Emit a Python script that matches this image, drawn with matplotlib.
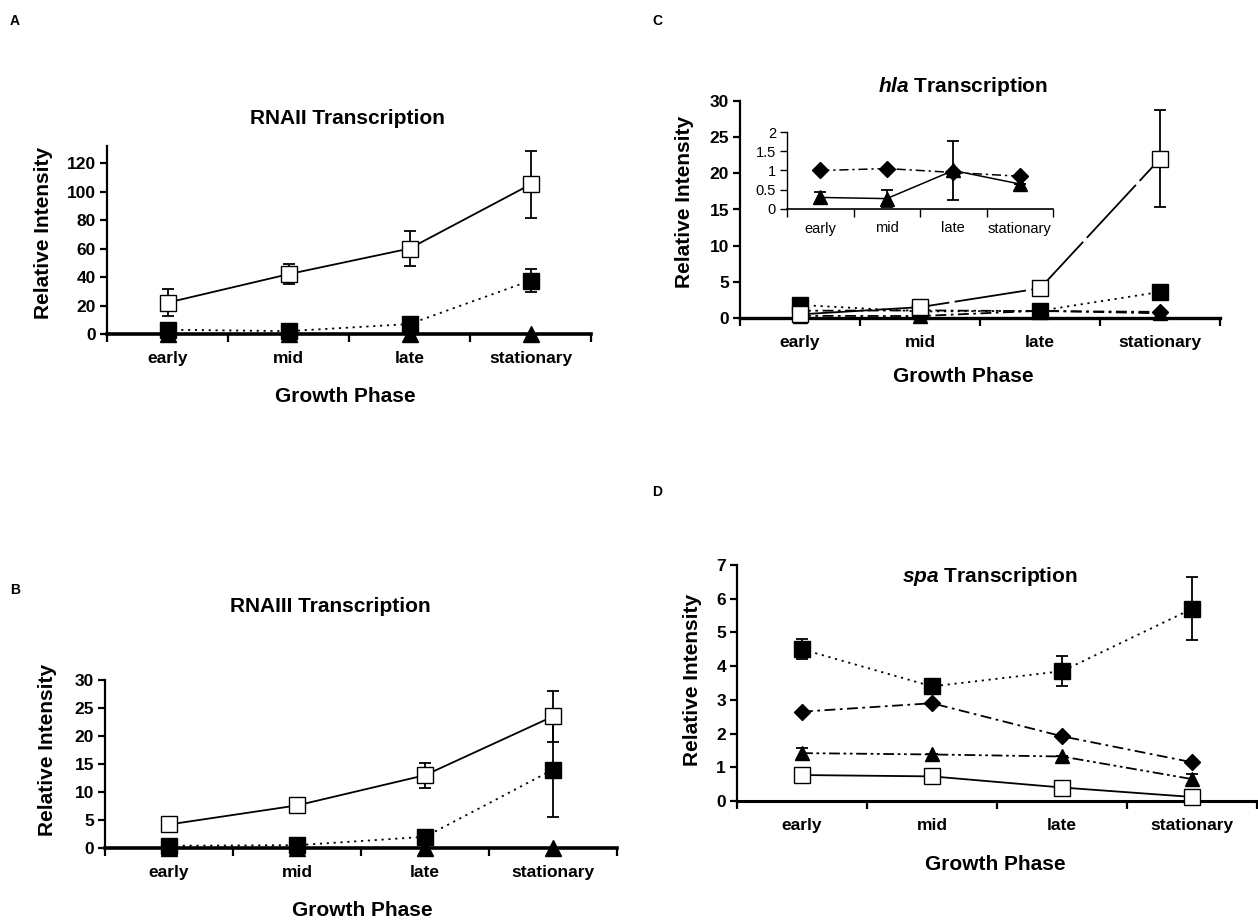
import matplotlib
matplotlib.use("Agg")
import matplotlib.pyplot as plt
from matplotlib.ticker import FixedLocator, NullFormatter, FixedFormatter

plt.rcParams['font.family'] = ['Liberation Sans', 'DejaVu Sans']
plt.rcParams['mathtext.fontset'] = 'custom'
plt.rcParams['mathtext.rm'] = 'Liberation Sans'
plt.rcParams['mathtext.it'] = 'Liberation Sans:italic'
plt.rcParams['mathtext.bf'] = 'Liberation Sans:bold'
plt.rcParams['mathtext.bfit'] = 'Liberation Sans:italic:bold'

phases = ['early', 'mid', 'late', 'stationary']

# Panel A: RNAII
rna2_open = [22, 42, 60, 105]
rna2_open_err = [9.5, 7, 12, 23.5]
rna2_filled = [3, 2, 7, 37.5]
rna2_filled_err = [0, 0, 0, 8]
rna2_tri = [0, 0, 0, 0]

# Panel B: RNAIII
rna3_open = [4.2, 7.6, 13.0, 23.5]
rna3_open_err = [0, 1.4, 2.2, 4.5]
rna3_filled = [0.4, 0.5, 2.0, 14.0]
rna3_filled_err = [0, 0, 0, 8.5]
rna3_tri = [0, 0, 0, 0]

# Panel C: hla
hla_open = [0.5, 1.5, 4.1, 22.0]
hla_open_err = [0, 0, 0, 6.7]
hla_filled = [1.8, 0.9, 1.0, 3.6]
hla_filled_err = [0, 0, 1.0, 0]
hla_diamond = [1.0, 1.05, 0.95, 0.85]
hla_tri = [0.3, 0.27, 1.0, 0.65]
hla_tri_err = [0.13, 0.22, 0.76, 0]

# Panel D: spa
spa_filled = [4.5, 3.4, 3.85, 5.7]
spa_filled_err = [0.3, 0, 0.45, 0.93]
spa_diamond = [2.65, 2.9, 1.92, 1.15]
spa_tri = [1.42, 1.38, 1.32, 0.65]
spa_tri_err = [0.15, 0, 0, 0.15]
spa_open = [0.77, 0.73, 0.4, 0.12]

W, H = 1258, 921
fig = plt.figure(figsize=(W / 100, H / 100), dpi=100)

DOT = (0, (1.2, 2.6))
DASHDOT = (0, (6, 2.5, 1.5, 2.5))
DASHDOTDOT = (0, (6, 2, 1.5, 2, 1.5, 2))

def px_axes(x0, x1, ybot, ytop):
    return fig.add_axes([x0 / W, 1 - ybot / H, (x1 - x0) / W, (ybot - ytop) / H])

def style_axes(ax, ylim, yticks, ticksize=12.5, bold=True, spine_w=1.6, bottom_w=1.6):
    ax.set_xlim(0, 4)
    ax.set_ylim(*ylim)
    for s in ['top', 'right']:
        ax.spines[s].set_visible(False)
    ax.spines['left'].set_linewidth(spine_w)
    ax.spines['bottom'].set_linewidth(bottom_w)
    ax.xaxis.set_major_locator(FixedLocator([0, 1, 2, 3, 4]))
    ax.xaxis.set_major_formatter(NullFormatter())
    ax.xaxis.set_minor_locator(FixedLocator([0.5, 1.5, 2.5, 3.5]))
    ax.xaxis.set_minor_formatter(FixedFormatter(phases))
    ax.tick_params(axis='x', which='major', direction='out', length=6, width=spine_w)
    ax.tick_params(axis='x', which='minor', length=0, pad=12 if bold else 6,
                   labelsize=ticksize)
    ax.set_yticks(yticks)
    ax.tick_params(axis='y', direction='out', length=5, width=spine_w,
                   labelsize=ticksize, pad=3)
    w = 'bold' if bold else 'normal'
    for lab in ax.get_xticklabels(minor=True) + ax.get_yticklabels():
        lab.set_fontweight(w)
    ax.patch.set_alpha(0)

x = [0.5, 1.5, 2.5, 3.5]

def series(ax, y, marker, ls, face='black', err=None, ms=11, lw=1.3, z=3):
    ax.errorbar(x, y, yerr=err, marker=marker, linestyle=ls, color='black',
                mfc=face, mec='black', ms=ms, lw=lw, capsize=4, elinewidth=1.3,
                capthick=1.3, zorder=z, clip_on=False)

def label(xp, yp, s, size=15, weight='bold', rot=0, style='normal'):
    fig.text(xp / W, 1 - yp / H, s, fontsize=size, fontweight=weight,
             rotation=rot, ha='center', va='center', style=style)

# ---- Panel A
axA = px_axes(107, 591, 334, 146)
style_axes(axA, (0, 132), list(range(0, 121, 20)), bottom_w=2.6)
series(axA, rna2_tri, '^', '-', ms=11, z=3)
series(axA, rna2_filled, 's', DOT, err=rna2_filled_err, z=4)
series(axA, rna2_open, 's', '-', face='white', err=rna2_open_err, z=5)
label(347, 118, 'RNAII Transcription')
label(44, 233, 'Relative Intensity', rot=90)
label(345, 396, 'Growth Phase')
label(15, 21, 'A', size=10)

# ---- Panel B
axB = px_axes(105, 617, 848, 680)
style_axes(axB, (0, 30), list(range(0, 31, 5)), bottom_w=2.6)
series(axB, rna3_tri, '^', '-', ms=11, z=3)
series(axB, rna3_filled, 's', DOT, err=rna3_filled_err, z=4)
series(axB, rna3_open, 's', '-', face='white', err=rna3_open_err, z=5)
label(330, 606, 'RNAIII Transcription')
label(48, 750, 'Relative Intensity', rot=90)
label(362, 910, 'Growth Phase')
label(15, 590, 'B', size=10)

# ---- Panel C
axC = px_axes(740, 1220, 318, 101)
style_axes(axC, (0, 30), list(range(0, 31, 5)), bottom_w=2.4)
series(axC, hla_diamond, 'D', DASHDOT, ms=8.5, z=3)
series(axC, hla_tri, '^', DASHDOT, ms=10, z=3)
series(axC, hla_filled, 's', DOT, err=hla_filled_err, z=4)
series(axC, hla_open, 's', (0, (40, 3)), face='white', err=hla_open_err, z=5)
fig.text(963 / W, 1 - 87 / H, r'$\bfit{hla}$' + ' Transcription', fontsize=15,
         fontweight='bold', ha='center', va='center')
label(684, 202, 'Relative Intensity', rot=90)
label(963, 377, 'Growth Phase')
label(657, 21, 'C', size=10)

# inset
axI = px_axes(787, 1053, 209, 132)
style_axes(axI, (0, 2), [0, 0.5, 1, 1.5, 2], ticksize=10.5, bold=False,
           spine_w=1.0, bottom_w=1.2)
axI.tick_params(axis='x', which='minor', pad=9)
axI.set_yticklabels(['0', '0.5', '1', '1.5', '2'])
series(axI, hla_diamond, 'D', DASHDOT, ms=8.5, lw=1.1, z=3)
series(axI, hla_tri, '^', '-', err=hla_tri_err, ms=10, lw=1.1, z=4)

# ---- Panel D
axD = px_axes(737, 1257, 801, 565)
style_axes(axD, (0, 7), list(range(0, 8)), bottom_w=2.2)
series(axD, spa_open, 's', '-', face='white', z=5)
series(axD, spa_tri, '^', DASHDOTDOT, err=spa_tri_err, ms=10, z=3)
series(axD, spa_diamond, 'D', DASHDOT, ms=8.5, z=3)
series(axD, spa_filled, 's', DOT, err=spa_filled_err, z=4)
fig.text(990 / W, 1 - 577 / H, r'$\bfit{spa}$' + ' Transcription', fontsize=15,
         fontweight='bold', ha='center', va='center')
label(692, 680, 'Relative Intensity', rot=90)
label(995, 864, 'Growth Phase')
label(657, 492, 'D', size=10)

fig.savefig('out.png', dpi=100)
